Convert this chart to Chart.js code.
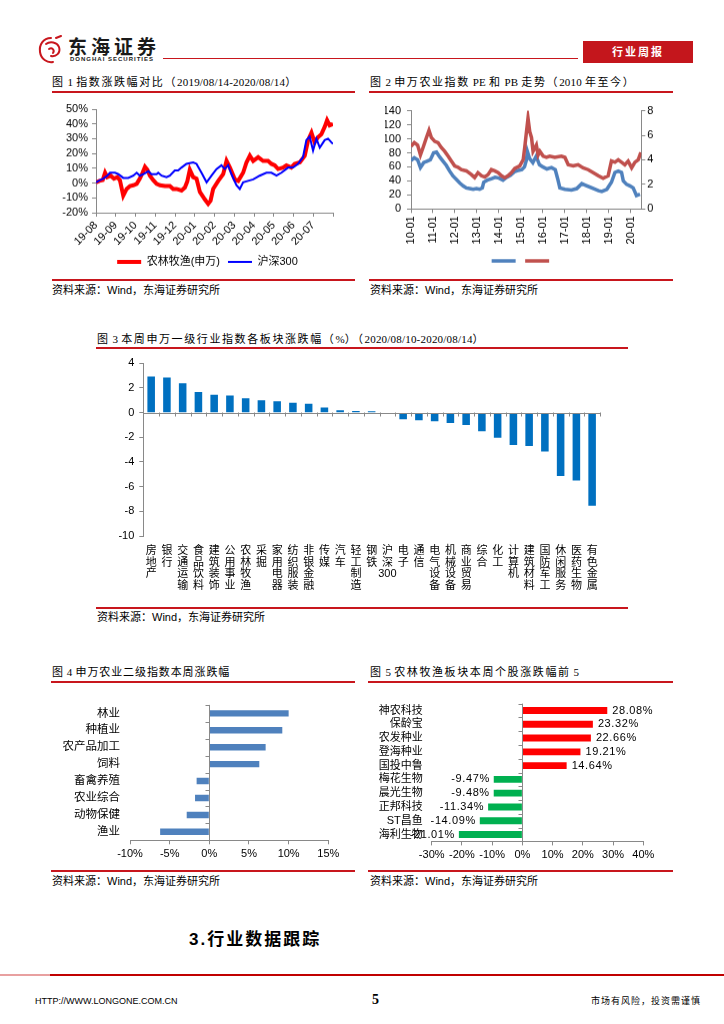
<!DOCTYPE html>
<html>
<head>
<meta charset="utf-8">
<script src="https://cdn.jsdelivr.net/npm/chart.js@4/dist/chart.umd.min.js"></script>
<style>
  body { margin: 0; width: 724px; height: 1024px; position: relative; background: #fff; overflow: hidden;
         font-family: 'Liberation Sans', 'Noto Sans CJK SC', sans-serif; color: #000; }
  .box { position: absolute; }
  .rule { position: absolute; height: 2px; background: #c8161d; }
  .title { position: absolute; font-family: 'Liberation Serif', 'Noto Sans CJK SC', serif; font-size: 11px;
           letter-spacing: 1.6px; line-height: 14px; white-space: nowrap; }
  .title .l { letter-spacing: 0.2px; }
  .src { position: absolute; font-size: 11px; line-height: 14px; white-space: nowrap; letter-spacing: 0; }
</style>
</head>
<body>

<!-- header -->
<svg class="box" style="left:37px;top:35px" width="28" height="30" viewBox="0 0 28 30">
  <g fill="none" stroke="#c8161d" stroke-width="2" stroke-linecap="round">
    <path d="M14 3 C6 3 2 10 3 17 C4 24 10 28 16 27"/>
    <path d="M9 9 C13 6 20 7 22 12 C24 18 19 22 14 21"/>
    <path d="M12 14 C15 12 18 15 16 18"/>
    <path d="M19 3 L24 1"/>
  </g>
</svg>
<div class="box" style="left:68px;top:38px;font-size:19px;font-weight:bold;letter-spacing:4px;line-height:20px;color:#1a1a1a">东海证券</div>
<div class="box" style="left:70px;top:56px;font-size:6px;font-weight:bold;letter-spacing:1px;line-height:7px;color:#1a1a1a">DONGHAI SECURITIES</div>
<div class="box" style="left:163px;top:58px;width:415px;height:1px;background:#c8161d"></div>
<div class="box" style="left:583px;top:41px;width:110px;height:22px;background:#c4161c;color:#fff;font-size:11px;font-weight:bold;letter-spacing:2px;line-height:22px;text-align:center">行业周报</div>

<!-- figure 1 -->
<div class="title" style="left:52px;top:75px">图<span class="l"> 1 </span>指数涨跌幅对比（<span class="l">2019/08/14-2020/08/14</span>）</div>
<div class="rule" style="left:52px;top:91px;width:303px"></div>
<div class="box" style="left:50px;top:98px;width:315px;height:178.5px"><canvas id="c1"></canvas></div>
<div class="rule" style="left:52px;top:278.5px;width:303px"></div>
<div class="src" style="left:52px;top:283px">资料来源：Wind，东海证券研究所</div>

<!-- figure 2 -->
<div class="title" style="left:370px;top:75px">图<span class="l"> 2 </span>申万农业指数<span class="l"> PE </span>和<span class="l"> PB </span>走势（<span class="l">2010 </span>年至今）</div>
<div class="rule" style="left:369px;top:91px;width:304px"></div>
<div class="box" style="left:365px;top:98px;width:310px;height:177.5px"><canvas id="c2"></canvas></div>
<div class="rule" style="left:369px;top:279px;width:304px"></div>
<div class="src" style="left:370px;top:283px">资料来源：Wind，东海证券研究所</div>

<!-- figure 3 -->
<div class="title" style="left:97px;top:332px">图<span class="l"> 3 </span>本周申万一级行业指数各板块涨跌幅（<span class="l">%</span>）（<span class="l">2020/08/10-2020/08/14</span>）</div>
<div class="rule" style="left:96px;top:347px;width:532px"></div>
<div class="box" style="left:97px;top:350px;width:531px;height:246px"><canvas id="c3"></canvas></div>
<div class="rule" style="left:96px;top:606.5px;width:532px"></div>
<div class="src" style="left:97px;top:610px">资料来源：Wind，东海证券研究所</div>

<!-- figure 4 -->
<div class="title" style="left:52px;top:665px;letter-spacing:0.9px">图<span class="l"> 4 </span>申万农业二级指数本周涨跌幅</div>
<div class="rule" style="left:51px;top:680.5px;width:304px"></div>
<div class="box" style="left:50px;top:688px;width:305px;height:174.3px"><canvas id="c4"></canvas></div>
<div class="rule" style="left:51px;top:869.5px;width:304px"></div>
<div class="src" style="left:52px;top:874px">资料来源：Wind，东海证券研究所</div>

<!-- figure 5 -->
<div class="title" style="left:370px;top:665px">图<span class="l"> 5 </span>农林牧渔板块本周个股涨跌幅前<span class="l"> 5</span></div>
<div class="rule" style="left:368px;top:680.5px;width:305px"></div>
<div class="box" style="left:365px;top:688px;width:307px;height:175.4px"><canvas id="c5"></canvas></div>
<div class="rule" style="left:368px;top:869.5px;width:305px"></div>
<div class="src" style="left:370px;top:874px">资料来源：Wind，东海证券研究所</div>

<!-- section heading + footer -->
<div class="box" style="left:189px;top:929px;font-size:17px;font-weight:bold;letter-spacing:2px;line-height:22px">3.行业数据跟踪</div>
<div class="box" style="left:0;top:974px;width:50px;height:2px;background:#e8a0a0"></div>
<div class="box" style="left:50px;top:974px;width:674px;height:2px;background:#c00000"></div>
<div class="box" style="left:35px;top:995px;font-size:9px;line-height:12px">HTTP://WWW.LONGONE.COM.CN</div>
<div class="box" style="left:372px;top:991px;font-family:'Liberation Serif',serif;font-weight:bold;font-size:14px;line-height:17px">5</div>
<div class="box" style="left:591px;top:995px;font-size:9px;letter-spacing:1px;line-height:12px">市场有风险，投资需谨慎</div>

<script>
// ---------- fig 1: 农林牧渔(申万) vs 沪深300, cumulative change (%) ----------
const c1Ticks = ['19-08', '19-09', '19-10', '19-11', '19-12', '20-01', '20-02', '20-03', '20-04', '20-05', '20-06', '20-07'];
const c1YTicks = [-20, -10, 0, 10, 20, 30, 40, 50];
// x = position along the axis in tick units (0 = 2019-08-14)
const agriPos = [0, 0.17, 0.34, 0.46, 0.57, 0.74, 0.91, 1.08, 1.21, 1.38, 1.55, 1.72, 1.89, 2.06, 2.22, 2.36, 2.48, 2.6,
  2.73, 2.9, 3.07, 3.24, 3.49, 3.74, 3.91, 4.08, 4.33, 4.5, 4.62, 4.75, 4.92, 5.09, 5.26, 5.51, 5.68, 5.8, 5.93, 6.19,
  6.44, 6.61, 6.78, 7.03, 7.2, 7.45, 7.62, 7.79, 7.96, 8.21, 8.46, 8.71, 8.88, 9.05, 9.22, 9.47, 9.64, 9.89, 10.06,
  10.32, 10.57, 10.74, 10.91, 11.07, 11.24, 11.41, 11.58, 11.7, 11.83, 12];
const agriPct = [0.5, 1.5, 2, 7, 4, 5, 3, 4, 2, -8.5, -4, -2, -1.5, -0.5, 3, 7, 11, 9,
  5, 2, -0.5, -1.5, -2, -2, -4, -4, -5, -3, 1, 9, 4, 3, -6, -11, -14, -12, -4, 1.5,
  6, 15, 10.5, 2.5, 1.5, 7, 14, 18.5, 15, 17.5, 15, 15, 13, 12, 9.5, 10.5, 12, 10.5, 13,
  14, 18.5, 29, 34, 27.5, 31, 33, 38, 42.5, 39, 40];
const hs300Pos = [0, 0.2, 0.37, 0.57, 0.71, 0.96, 1.13, 1.38, 1.63, 1.89, 2.06, 2.22, 2.39, 2.65, 2.81, 3.07, 3.15, 3.32,
  3.57, 3.74, 3.99, 4.16, 4.33, 4.58, 4.75, 4.92, 5.09, 5.34, 5.6, 5.85, 6.1, 6.35, 6.52, 6.69, 6.86, 7.11, 7.28, 7.45,
  7.7, 7.96, 8.29, 8.63, 8.88, 9.14, 9.39, 9.73, 9.98, 10.23, 10.48, 10.65, 10.82, 10.99, 11.16, 11.33, 11.58, 11.75,
  11.92, 12];
const hs300Pct = [0.5, 2, 3, 5, 7, 7, 6, 3.5, 3.5, 5, 7, 5, 6, 8, 6, 6, 7, 5,
  4, 5, 8.5, 8.5, 10.5, 13, 13.5, 14, 13, 7, 0.5, 5, 9.5, 12, 9.5, 12, 6, -1.5, -4, 0.5,
  1.5, 2.5, 5, 7, 7, 5, 7, 10.5, 10.5, 13, 17.5, 29, 31.5, 22, 30, 24, 29, 30,
  27.5, 26.5];

// ---------- fig 2: 申万农业 PE (left) and PB (right) ----------
const c2Ticks = ['10-01', '11-01', '12-01', '13-01', '14-01', '15-01', '16-01', '17-01', '18-01', '19-01', '20-01'];
const c2PeTicks = [0, 20, 40, 60, 80, 100, 120, 140];
const c2PbTicks = [0, 2, 4, 6, 8];
// x = years since 2010-01
const pePos = [0, 0.15, 0.3, 0.43, 0.58, 0.73, 0.88, 1.03, 1.16, 1.31, 1.46, 1.61, 1.76, 1.91, 2.07, 2.22, 2.37, 2.52,
  2.67, 2.83, 2.98, 3.13, 3.25, 3.31, 3.47, 3.65, 3.83, 4.01, 4.19, 4.35, 4.53, 4.71, 4.89, 5.05, 5.17, 5.26, 5.3, 5.4,
  5.55, 5.7, 5.85, 6, 6.19, 6.4, 6.57, 6.69, 6.78, 7.01, 7.31, 7.55, 7.78, 7.93, 8.24, 8.54, 8.69, 8.92, 9.13, 9.29,
  9.44, 9.59, 9.67, 9.82, 9.97, 10.12, 10.27, 10.43];
const peVal = [69, 73, 70, 59, 66, 68, 70, 80, 81, 74, 68, 62, 54, 47, 42, 37, 33, 30,
  29, 28, 29, 28, 30, 38, 41, 43, 45, 44, 41, 45, 48, 53, 55, 56, 60, 70, 82, 72,
  66, 75, 63, 60, 57, 59, 56, 42, 30, 28, 27, 29, 36, 34, 30, 26, 25, 28, 38, 52,
  54, 52, 40, 35, 33, 30, 19, 21];
const pbPos = [0, 0.15, 0.3, 0.43, 0.55, 0.7, 0.82, 0.93, 1.08, 1.23, 1.38, 1.53, 1.69, 1.84, 1.99, 2.14, 2.29, 2.52,
  2.75, 2.9, 3.05, 3.21, 3.36, 3.51, 3.66, 3.81, 3.97, 4.12, 4.27, 4.42, 4.57, 4.73, 4.95, 5.11, 5.18, 5.26, 5.33, 5.41,
  5.49, 5.56, 5.71, 5.79, 5.87, 6.02, 6.17, 6.32, 6.55, 6.85, 7.01, 7.16, 7.39, 7.61, 7.84, 8.07, 8.3, 8.53, 8.75,
  8.98, 9.13, 9.29, 9.44, 9.59, 9.74, 9.89, 10.05, 10.2, 10.35, 10.47];
const pbVal = [5.1, 5.4, 5.2, 4.4, 5.0, 5.8, 6.4, 5.8, 5.5, 5.4, 5.0, 4.7, 4.3, 3.9, 3.5, 3.4, 3.2, 3.1,
  2.8, 2.55, 2.95, 2.7, 2.6, 2.8, 3.2, 3.1, 2.95, 2.7, 2.55, 2.7, 2.95, 3.3, 3.5, 4.0, 5.0, 6.3, 7.4, 6.3,
  5.8, 4.7, 5.2, 4.4, 4.7, 4.3, 4.2, 4.3, 4.2, 4.3, 4.2, 3.6, 3.5, 3.6, 3.35, 3.2, 2.95, 2.7, 2.5,
  2.7, 3.9, 3.8, 4.0, 3.8, 3.6, 3.9, 3.35, 3.8, 4.0, 4.6];

// ---------- fig 3: 申万一级行业本周涨跌幅 (%) ----------
const sectors = ['房地产', '银行', '交通运输', '食品饮料', '建筑装饰', '公用事业', '农林牧渔', '采掘', '家用电器',
  '纺织服装', '非银金融', '传媒', '汽车', '轻工制造', '钢铁', '沪深300', '电子', '通信', '电气设备', '机械设备',
  '商业贸易', '综合', '化工', '计算机', '建筑材料', '国防军工', '休闲服务', '医药生物', '有色金属'];
const sectorChg = [2.92, 2.84, 2.38, 1.68, 1.46, 1.38, 1.16, 1.0, 0.92,
  0.81, 0.73, 0.41, 0.19, 0.14, 0.11, -0.08, -0.54, -0.62, -0.7, -0.84,
  -1.0, -1.51, -2.03, -2.62, -2.7, -3.14, -5.14, -5.51, -7.54];
const c3YTicks = [-10, -8, -6, -4, -2, 0, 2, 4];

// ---------- fig 4: 申万农业二级指数本周涨跌幅 (%) ----------
const subInds = ['林业', '种植业', '农产品加工', '饲料', '畜禽养殖', '农业综合', '动物保健', '渔业'];
const subChg = [10.0, 9.2, 7.1, 6.3, -1.6, -1.8, -2.85, -6.2];
const c4XTicks = [-10, -5, 0, 5, 10, 15];

// ---------- fig 5: 个股涨跌幅前 5 (%) ----------
const stocks = ['神农科技', '保龄宝', '农发种业', '登海种业', '国投中鲁', '梅花生物', '晨光生物', '正邦科技', 'ST昌鱼', '海利生物'];
const stockChg = [28.08, 23.32, 22.66, 19.21, 14.64, -9.47, -9.48, -11.34, -14.09, -21.01];
const c5XTicks = [-30, -20, -10, 0, 10, 20, 30, 40];

const axisGrey = '#898989';
Chart.defaults.font.family = "'Liberation Sans', 'Noto Sans CJK SC', sans-serif";
Chart.defaults.font.size = 11;
Chart.defaults.color = '#000';

const pts = (xs, ys) => xs.map((x, i) => ({ x, y: ys[i] }));
const pct = v => v + '%';
const useTicks = list => s => { s.ticks = list.map(value => ({ value })); };
const outAxis = { drawOnChartArea: false, tickLength: 4, color: axisGrey };

// value-zero axis line with tick marks between categories (Excel style)
const zeroAxis = {
  id: 'zeroAxis',
  afterDatasetsDraw(chart) {
    const { ctx, chartArea: a } = chart;
    const horiz = chart.options.indexAxis === 'y';
    const p = Math.round(chart.scales[horiz ? 'x' : 'y'].getPixelForValue(0)) + 0.5;
    const n = chart.data.labels.length;
    ctx.save();
    ctx.strokeStyle = axisGrey;
    ctx.lineWidth = 1;
    ctx.beginPath();
    if (horiz) {
      ctx.moveTo(p, a.top); ctx.lineTo(p, a.bottom);
      for (let i = 0; i <= n; i++) {
        const y = Math.round(a.top + (a.bottom - a.top) * i / n) + 0.5;
        ctx.moveTo(p - 4, y); ctx.lineTo(p, y);
      }
    } else {
      ctx.moveTo(a.left, p); ctx.lineTo(a.right, p);
      for (let i = 0; i <= n; i++) {
        const x = Math.round(a.left + (a.right - a.left) * i / n) + 0.5;
        ctx.moveTo(x, p - 1); ctx.lineTo(x, p + 3);
      }
    }
    ctx.stroke();
    ctx.restore();
  }
};

// value labels at the end of horizontal bars
const barLabels = {
  id: 'barLabels',
  afterDatasetsDraw(chart) {
    const { ctx } = chart;
    const vals = chart.data.datasets[0].data;
    ctx.save();
    ctx.font = "11px 'Liberation Sans', sans-serif";
    ctx.letterSpacing = '0.6px';
    ctx.fillStyle = '#000';
    ctx.textBaseline = 'middle';
    chart.getDatasetMeta(0).data.forEach((bar, i) => {
      const neg = vals[i] < 0;
      ctx.textAlign = neg ? 'right' : 'left';
      ctx.fillText(vals[i].toFixed(2) + '%', bar.x + (neg ? -4 : 5), bar.y);
    });
    ctx.restore();
  }
};

// fig 1 (an empty right-hand box keeps the bottom legend centred like the original)
new Chart(document.getElementById('c1'), {
  type: 'line',
  data: {
    datasets: [
      { label: '农林牧渔(申万)', data: pts(agriPos, agriPct), borderColor: '#ff0000', borderWidth: 4, pointRadius: 0, order: 1 },
      { label: '沪深300', data: pts(hs300Pos, hs300Pct), borderColor: '#0000ff', borderWidth: 2, pointRadius: 0, order: 0 }
    ]
  },
  options: {
    responsive: true, maintainAspectRatio: false, animation: false,
    layout: { autoPadding: false, padding: { top: 11, right: 0, left: 0, bottom: 0 } },
    plugins: {
      tooltip: { enabled: false },
      legend: {
        position: 'bottom',
        labels: { usePointStyle: true, pointStyle: 'line', pointStyleWidth: 24, padding: 8, sort: (a, b) => a.datasetIndex - b.datasetIndex }
      }
    },
    scales: {
      x: {
        type: 'linear', min: 0, max: 12,
        afterBuildTicks: useTicks(c1Ticks.map((_, i) => i).concat([12])),
        ticks: { autoSkip: false, minRotation: 45, maxRotation: 45, padding: 2, callback: v => c1Ticks[v] ?? '' },
        grid: outAxis, border: { color: axisGrey },
        afterFit: s => { s.height = 35.5; }
      },
      y: {
        min: -20, max: 50,
        afterBuildTicks: useTicks(c1YTicks),
        ticks: { autoSkip: false, padding: 4, callback: pct },
        grid: outAxis, border: { color: axisGrey },
        afterFit: s => { s.width = 46; }
      },
      spacer: {
        position: 'right', min: 0, max: 1,
        ticks: { display: false }, grid: { display: false, drawTicks: false }, border: { display: false },
        afterFit: s => { s.width = 32; }
      }
    }
  }
});

// fig 2
new Chart(document.getElementById('c2'), {
  type: 'line',
  data: {
    datasets: [
      { label: '', data: pts(pePos, peVal), yAxisID: 'y', borderColor: '#4f81bd', borderWidth: 3.5, pointRadius: 0, order: 1 },
      { label: '', data: pts(pbPos, pbVal), yAxisID: 'y1', borderColor: '#c0504d', borderWidth: 3.5, pointRadius: 0, order: 0 }
    ]
  },
  options: {
    responsive: true, maintainAspectRatio: false, animation: false,
    layout: { autoPadding: false, padding: { top: 11, right: 13.7, left: 20, bottom: 0 } },
    plugins: {
      tooltip: { enabled: false },
      legend: {
        position: 'bottom',
        labels: { usePointStyle: true, pointStyle: 'line', pointStyleWidth: 24, padding: 4, sort: (a, b) => a.datasetIndex - b.datasetIndex }
      }
    },
    scales: {
      x: {
        type: 'linear', min: 0, max: 10.49,
        afterBuildTicks: useTicks(c2Ticks.map((_, i) => i)),
        ticks: { autoSkip: false, minRotation: 90, maxRotation: 90, padding: 3, callback: v => c2Ticks[v] ?? '' },
        grid: outAxis, border: { color: axisGrey },
        afterFit: s => { s.height = 42.2; }
      },
      y: {
        position: 'left', min: 0, max: 140,
        afterBuildTicks: useTicks(c2PeTicks),
        ticks: { autoSkip: false, padding: 6 },
        grid: outAxis, border: { color: axisGrey },
        afterFit: s => { s.width = 26; }
      },
      y1: {
        position: 'right', min: 0, max: 8,
        afterBuildTicks: useTicks(c2PbTicks),
        ticks: { autoSkip: false, padding: 2 },
        grid: outAxis, border: { color: axisGrey },
        afterFit: s => { s.width = 20; }
      }
    }
  }
});

// fig 3 (category names written top-to-bottom, one character per line)
const stackChars = s => s.match(/[0-9A-Za-z]+|./g);
new Chart(document.getElementById('c3'), {
  type: 'bar',
  data: {
    labels: sectors.map(stackChars),
    datasets: [{ data: sectorChg, backgroundColor: '#0070c0', categoryPercentage: 1, barPercentage: 0.48 }]
  },
  options: {
    responsive: true, maintainAspectRatio: false, animation: false,
    layout: { autoPadding: false, padding: { top: 13.3, right: 28, left: 0, bottom: 0 } },
    plugins: { legend: { display: false }, tooltip: { enabled: false } },
    scales: {
      x: {
        grid: { display: false, drawTicks: false }, border: { display: false },
        ticks: { autoSkip: false, minRotation: 0, maxRotation: 0, padding: 9, font: { size: 11, lineHeight: 1.07 } },
        afterFit: s => { s.height = 60; }
      },
      y: {
        min: -10, max: 4,
        afterBuildTicks: useTicks(c3YTicks),
        ticks: { autoSkip: false, padding: 5 },
        grid: outAxis, border: { color: axisGrey },
        afterFit: s => { s.width = 46.3; }
      }
    }
  },
  plugins: [zeroAxis]
});

// fig 4
new Chart(document.getElementById('c4'), {
  type: 'bar',
  data: {
    labels: subInds,
    datasets: [{ data: subChg, backgroundColor: '#4f81bd', categoryPercentage: 1, barPercentage: 0.38 }]
  },
  options: {
    indexAxis: 'y',
    responsive: true, maintainAspectRatio: false, animation: false,
    layout: { autoPadding: false, padding: { top: 9.7, right: 26.7, left: 0, bottom: 0 } },
    plugins: { legend: { display: false }, tooltip: { enabled: false } },
    scales: {
      x: {
        min: -10, max: 15,
        afterBuildTicks: useTicks(c4XTicks),
        ticks: { autoSkip: false, minRotation: 0, maxRotation: 0, padding: 3, callback: pct },
        grid: outAxis, border: { color: axisGrey },
        afterFit: s => { s.height = 22; }
      },
      y: {
        grid: { display: false, drawTicks: false }, border: { display: false },
        ticks: { autoSkip: false, padding: 10, font: { size: 11.5 } },
        afterFit: s => { s.width = 80; }
      }
    }
  },
  plugins: [zeroAxis]
});

// fig 5
new Chart(document.getElementById('c5'), {
  type: 'bar',
  data: {
    labels: stocks,
    datasets: [{
      data: stockChg,
      backgroundColor: c => (c.raw >= 0 ? '#ff0000' : '#00b050'),
      categoryPercentage: 1, barPercentage: 0.5
    }]
  },
  options: {
    indexAxis: 'y',
    responsive: true, maintainAspectRatio: false, animation: false,
    layout: { autoPadding: false, padding: { top: 11.6, right: 28.7, left: 0, bottom: 0 } },
    plugins: { legend: { display: false }, tooltip: { enabled: false } },
    scales: {
      x: {
        min: -30, max: 40,
        afterBuildTicks: useTicks(c5XTicks),
        ticks: { autoSkip: false, minRotation: 0, maxRotation: 0, padding: 3, callback: pct },
        grid: outAxis, border: { color: axisGrey },
        afterFit: s => { s.height = 22; }
      },
      y: {
        grid: { display: false, drawTicks: false }, border: { display: false },
        ticks: { autoSkip: false, padding: 9 },
        afterFit: s => { s.width = 66.7; }
      }
    }
  },
  plugins: [zeroAxis, barLabels]
});
</script>
</body>
</html>
